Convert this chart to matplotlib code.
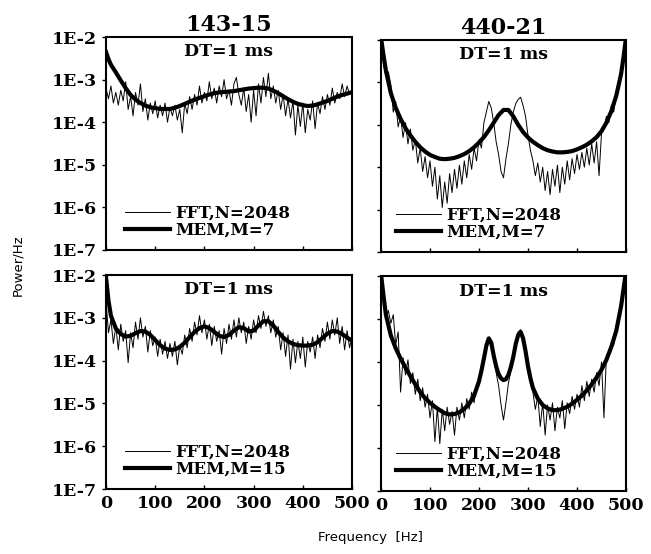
import matplotlib.pyplot as plt, numpy as np

# frequency grids [Hz]
fft_f = np.arange(0, 501, 5)
mem_f = [0, 5, 10, 20, 30, 40, 50, 60, 70, 80, 90, 100, 110, 120, 130, 140, 150, 160, 170, 180,
         190, 200, 210, 220, 230, 240, 250, 260, 270, 280, 290, 300, 310, 320, 330, 340, 350, 360,
         370, 380, 390, 400, 410, 420, 430, 440, 450, 460, 470, 480, 490, 495, 500]
mem_f_br = [0, 5, 10, 20, 30, 40, 50, 60, 70, 80, 90, 100, 110, 120, 130, 140, 150, 160, 170, 180,
            190, 200, 205, 210, 215, 220, 225, 230, 235, 240, 245, 250, 255, 260, 265, 270, 275,
            280, 285, 290, 295, 300, 305, 310, 320, 330, 340, 350, 360, 370, 380, 390, 400, 410,
            420, 430, 440, 450, 460, 470, 480, 490, 495, 500]

# log10(power/Hz), 143-15, top (MEM M=7)
fft_tl = [-3.20, -3.45, -3.15, -3.55, -3.30, -3.60, -3.25, -3.50, -3.05, -3.70, -3.40, -3.85, -3.30,
          -3.60, -3.10, -3.75, -3.45, -3.95, -3.55, -3.80, -3.50, -3.90, -3.60, -3.85, -3.55, -4.00,
          -3.65, -3.85, -3.60, -3.95, -3.70, -4.25, -3.55, -3.80, -3.40, -3.70, -3.35, -3.60, -3.15,
          -3.55, -3.30, -3.50, -3.05, -3.45, -3.20, -3.55, -3.15, -3.40, -3.00, -3.45, -3.25, -3.60,
          -3.10, -2.95, -3.35, -3.60, -3.20, -3.75, -3.35, -4.00, -3.25, -3.85, -3.10, -3.55, -2.95,
          -3.40, -2.85, -3.45, -3.15, -3.55, -3.25, -3.70, -3.35, -3.85, -3.45, -3.90, -3.50, -4.30,
          -3.60, -4.10, -3.55, -4.25, -3.70, -3.95, -3.50, -4.15, -3.55, -3.80, -3.40, -3.70, -3.35,
          -3.60, -3.20, -3.55, -3.30, -3.45, -3.10, -3.40, -3.15, -3.35, -3.25]
mem_tl = [-2.35, -2.52, -2.65, -2.83, -3.02, -3.20, -3.36, -3.47, -3.55, -3.61, -3.65, -3.67, -3.69,
          -3.69, -3.69, -3.66, -3.62, -3.57, -3.52, -3.47, -3.43, -3.39, -3.35, -3.32, -3.30, -3.29,
          -3.28, -3.27, -3.25, -3.23, -3.21, -3.20, -3.19, -3.19, -3.21, -3.26, -3.32, -3.39, -3.46,
          -3.52, -3.57, -3.60, -3.62, -3.61, -3.58, -3.54, -3.50, -3.45, -3.40, -3.36, -3.33, -3.31,
          -3.30]

# 440-21, top (MEM M=7)
fft_tr = [-2.00, -2.55, -2.85, -2.75, -3.05, -3.70, -3.45, -4.05, -3.80, -4.30, -3.95, -4.45, -4.10,
          -4.60, -4.35, -4.90, -4.55, -5.10, -4.75, -5.25, -4.85, -5.45, -5.00, -5.75, -5.20, -5.95,
          -5.35, -5.85, -5.15, -5.60, -5.05, -5.50, -4.95, -5.40, -4.85, -5.25, -4.70, -5.05, -4.55,
          -4.85, -4.35, -4.55, -3.95, -3.70, -3.45, -3.60, -3.95, -4.40, -4.70, -5.10, -5.25, -4.80,
          -4.45, -4.00, -3.70, -3.50, -3.40, -3.35, -3.55, -3.80, -4.25, -4.60, -4.85, -5.20, -4.90,
          -5.35, -5.00, -5.55, -5.10, -5.65, -5.05, -5.45, -4.95, -5.60, -5.00, -5.40, -4.85, -5.30,
          -4.80, -5.15, -4.70, -5.05, -4.65, -5.00, -4.55, -4.95, -4.45, -4.90, -4.40, -5.20, -4.20,
          -4.10, -3.80, -3.95, -3.55, -3.70, -3.25, -3.00, -2.70, -2.30, -2.00]
mem_tr = [-1.95, -2.35, -2.72, -3.25, -3.60, -3.86, -4.08, -4.25, -4.40, -4.53, -4.63, -4.71, -4.76,
          -4.80, -4.81, -4.80, -4.78, -4.74, -4.69, -4.62, -4.53, -4.42, -4.29, -4.13, -3.95, -3.77,
          -3.65, -3.65, -3.80, -4.00, -4.17, -4.30, -4.40, -4.48, -4.55, -4.60, -4.63, -4.65, -4.65,
          -4.64, -4.62, -4.58, -4.53, -4.47, -4.39, -4.29, -4.15, -3.95, -3.68, -3.32, -2.80, -2.40,
          -1.95]

# 143-15, bottom (MEM M=15)
fft_bl = [-2.60, -3.35, -3.05, -3.60, -3.20, -3.75, -3.15, -3.55, -3.30, -4.05, -3.35, -3.70, -3.10,
          -3.50, -3.00, -3.45, -3.20, -3.80, -3.30, -3.65, -3.45, -3.90, -3.50, -3.85, -3.55, -3.95,
          -3.60, -3.90, -3.55, -4.10, -3.65, -3.85, -3.40, -3.70, -3.25, -3.55, -3.10, -3.40, -2.95,
          -3.35, -3.05, -3.50, -3.15, -3.65, -3.20, -3.55, -3.30, -3.85, -3.25, -3.60, -3.15, -3.50,
          -3.05, -3.45, -3.00, -3.35, -3.10, -3.60, -3.20, -3.50, -3.05, -3.35, -2.95, -3.25, -2.85,
          -3.20, -2.95, -3.35, -3.05, -3.45, -3.20, -3.75, -3.35, -3.90, -3.40, -4.20, -3.50, -4.05,
          -3.55, -3.95, -3.45, -4.15, -3.55, -3.80, -3.45, -3.95, -3.40, -3.70, -3.25, -3.55, -3.10,
          -3.50, -3.05, -3.40, -3.00, -3.60, -3.20, -3.75, -3.30, -3.70, -3.45]
mem_bl = [-2.05, -2.60, -2.95, -3.25, -3.38, -3.44, -3.42, -3.36, -3.31, -3.32, -3.40, -3.52, -3.64,
          -3.72, -3.75, -3.74, -3.68, -3.58, -3.45, -3.33, -3.24, -3.20, -3.24, -3.33, -3.42, -3.45,
          -3.40, -3.30, -3.22, -3.24, -3.32, -3.30, -3.18, -3.08, -3.08, -3.18, -3.33, -3.46, -3.55,
          -3.61, -3.64, -3.65, -3.65, -3.63, -3.57, -3.47, -3.37, -3.31, -3.32, -3.38, -3.46, -3.50,
          -3.53]

# 440-21, bottom (MEM M=15)
fft_br = [-2.00, -2.60, -3.00, -2.80, -3.10, -2.90, -3.60, -3.30, -4.70, -3.90, -4.30, -3.95, -4.50,
          -4.25, -4.75, -4.40, -4.90, -4.60, -5.05, -4.75, -5.30, -4.90, -5.85, -5.05, -5.90, -5.10,
          -5.60, -5.05, -5.45, -5.15, -5.70, -5.05, -5.35, -4.95, -5.30, -4.85, -5.10, -4.70, -4.95,
          -4.50, -4.55, -4.15, -3.95, -3.60, -3.45, -3.50, -3.95, -4.25, -4.55, -5.00, -5.35, -4.95,
          -4.50, -4.20, -3.85, -3.60, -3.30, -3.25, -3.45, -3.80, -4.15, -4.50, -4.70, -5.10, -4.80,
          -5.50, -4.95, -5.70, -5.00, -5.35, -4.95, -5.60, -5.05, -5.30, -4.90, -5.55, -4.95, -5.20,
          -4.80, -5.10, -4.75, -5.05, -4.55, -4.90, -4.45, -4.80, -4.40, -4.70, -4.25, -4.55, -4.00,
          -5.30, -3.85, -3.75, -3.70, -3.60, -3.30, -3.10, -2.75, -2.30, -1.95]
mem_br = [-1.95, -2.45, -2.90, -3.38, -3.68, -3.92, -4.13, -4.33, -4.52, -4.70, -4.84, -4.95, -5.04,
          -5.12, -5.19, -5.22, -5.21, -5.17, -5.09, -4.97, -4.78, -4.45, -4.20, -3.92, -3.62, -3.45,
          -3.55, -3.85, -4.10, -4.28, -4.38, -4.42, -4.40, -4.30, -4.12, -3.88, -3.58, -3.37, -3.30,
          -3.45, -3.75, -4.10, -4.38, -4.60, -4.85, -5.00, -5.08, -5.12, -5.12, -5.09, -5.04, -4.97,
          -4.88, -4.78, -4.66, -4.52, -4.36, -4.18, -3.95, -3.65, -3.28, -2.70, -2.30, -1.90]

titles = ['143-15', '440-21']
mem_labels = ['MEM,M=7', 'MEM,M=15']
yticks = [1e-7, 1e-6, 1e-5, 1e-4, 1e-3, 1e-2]
ylabels = ['1E-7', '1E-6', '1E-5', '1E-4', '1E-3', '1E-2']
xticks = [0, 100, 200, 300, 400, 500]

W, H = 651, 554
fig = plt.figure(figsize=(W / 100, H / 100), dpi=100)
serif = {'family': 'DejaVu Serif', 'weight': 'bold'}

# panel boxes in pixels: left, top, right, bottom
boxes = [(106, 37, 352, 250), (381, 40, 626, 252), (106, 275, 352, 489), (381, 276, 626, 491)]
panels = [(fft_f, fft_tl, mem_f, mem_tl), (fft_f, fft_tr, mem_f, mem_tr),
          (fft_f, fft_bl, mem_f, mem_bl), (fft_f, fft_br, mem_f_br, mem_br)]

for i, ((l, t, r, b), (ff, fv, mf, mv)) in enumerate(zip(boxes, panels)):
    ax = fig.add_axes([l / W, 1 - b / H, (r - l) / W, (b - t) / H])
    ax.plot(ff, 10 ** np.array(fv), color='black', lw=0.7, label='FFT,N=2048')
    ax.plot(mf, 10 ** np.array(mv), color='black', lw=3.0, label=mem_labels[i // 2])
    ax.set_yscale('log')
    ax.set_xlim(0, 500)
    ax.set_ylim(1e-7, 1e-2)
    ax.set_yticks(yticks)
    ax.minorticks_off()
    ax.set_xticks(xticks)
    for s in ax.spines.values():
        s.set_linewidth(1.5)
    ax.tick_params(axis='y', direction='out', length=3, width=1)
    ax.tick_params(axis='x', direction='in', length=3, width=1)
    if i % 2 == 0:
        ax.set_yticklabels(ylabels, fontdict=serif, fontsize=12.5)
    else:
        ax.set_yticklabels([])
    if i >= 2:
        ax.set_xticklabels([str(x) for x in xticks], fontdict=serif, fontsize=12.5)
        ax.tick_params(axis='x', pad=4)
    else:
        ax.set_xticklabels([])
        ax.set_title(titles[i], fontdict=serif, fontsize=16, pad=4)
    ax.text(0.5, 0.93, 'DT=1 ms', transform=ax.transAxes, ha='center', va='center',
            fontdict=serif, fontsize=12.5)
    ax.legend(loc='lower left', bbox_to_anchor=(0.05 if i % 2 == 0 else 0.035, 0.02),
              frameon=False, handlelength=2.7, handletextpad=0.3, labelspacing=0.0,
              borderaxespad=0, prop={'family': 'DejaVu Serif', 'weight': 'bold', 'size': 12})

fig.text(18 / W, 1 - 265 / H, 'Power/Hz', rotation=90, ha='center', va='center', fontsize=9.5)
fig.text(370 / W, 1 - 538 / H, 'Frequency  [Hz]', ha='center', va='center', fontsize=9.5)

fig.savefig('out.png', dpi=100)
